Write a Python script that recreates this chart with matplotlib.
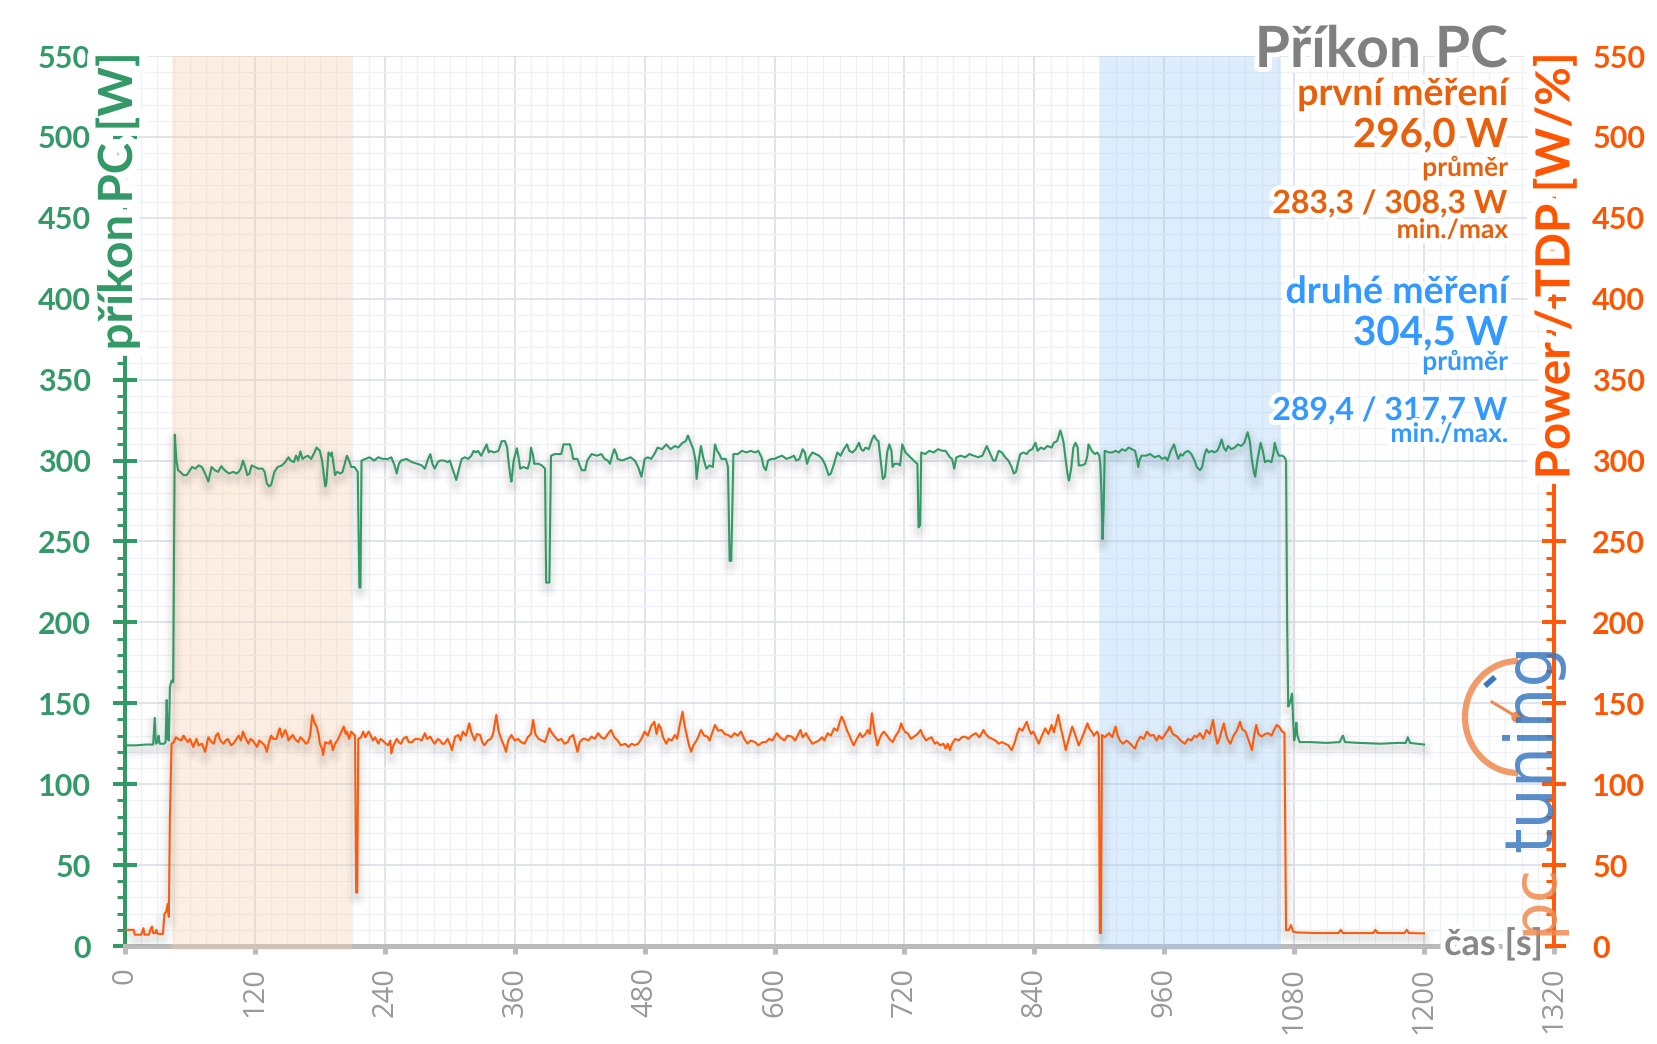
import matplotlib
matplotlib.use('Agg')
import matplotlib.pyplot as plt
import matplotlib.patheffects as pe
from matplotlib.patches import Arc, Circle
from matplotlib.ticker import MultipleLocator

# =============================================================================
# DATA
# =============================================================================

# příkon PC [W] - time [s] / value
pc_t = [0, 10, 20, 26, 27.5, 28.5, 30, 31, 32, 36, 37.5, 38.5, 39.5, 40.5, 41.5, 43, 44.5,
        46, 47.5, 49, 51, 54, 57, 60, 62, 65, 68, 71, 74, 77, 80, 83, 86, 89, 92, 96, 100,
        103, 105, 107, 109, 111, 113, 115, 117, 120, 123, 127, 129, 131, 133, 135, 138, 141,
        145, 148, 151, 153, 156, 158, 160, 162, 164, 166, 169, 172, 175, 177, 180, 182, 185,
        186, 188, 190, 191, 193, 194, 196, 199, 201, 203, 205, 207, 209, 212, 214, 215, 216.5,
        217.5, 218.5, 222, 226, 230, 234, 238, 243, 246, 249, 251, 253, 255, 260, 265, 270,
        274, 277, 280, 282, 284, 286, 289, 291, 295, 298, 300, 303, 306, 309, 311, 314, 317,
        320, 322, 324, 326, 329, 332, 334, 336, 337, 341, 345, 348, 351, 353, 354, 356, 357,
        359, 362, 364, 365, 368, 372, 374, 375, 377, 378, 382, 385, 388, 389, 392, 393.5, 397,
        400, 403, 405, 411, 413, 414, 418, 420, 422, 425, 427, 431, 436, 440, 443, 446, 448,
        450, 452, 454, 455, 459, 463, 467, 471, 474, 477, 479, 480, 483, 486, 489, 492, 496,
        500, 504, 508, 511, 515, 518, 520, 522, 525, 527, 528, 530, 532, 534, 537, 540, 543,
        545, 547, 549, 551, 555, 557, 558.5, 560, 562, 566, 570, 574, 578, 582, 585, 588, 590,
        592, 594, 597, 600, 603, 607, 611, 615, 618, 620, 623, 626, 628, 630, 632, 635, 638,
        641, 644, 647, 650, 652, 655, 658, 661, 664, 667, 669, 672, 675, 678, 680, 682, 684,
        687, 690, 692, 694, 696, 698, 700, 702, 704, 706, 708, 709, 711, 714, 716, 718, 721,
        724, 727, 730, 732, 733, 734.5, 735.5, 739, 743, 747, 751, 755, 758, 762, 764, 766,
        768, 772, 776, 780, 784, 788, 792, 794, 796, 798, 800, 802, 804, 807, 810, 813, 816,
        819, 821, 823, 825, 827, 830, 833, 835, 838, 841, 843, 846, 849, 852, 856, 858, 861,
        864, 866, 867, 869, 871, 872, 874, 876, 878, 880, 881, 884, 887, 889, 890, 893, 896,
        898, 900, 901, 902, 903, 904, 905, 909, 912, 915, 918, 921, 924, 927, 930, 933, 935,
        936, 937, 939, 943, 947, 951, 955, 958, 961, 963, 966, 969, 971, 973, 975, 977, 979,
        982, 985, 988, 990, 993, 995, 997, 999, 1001, 1004, 1006, 1009, 1011, 1013, 1015,
        1017, 1019, 1022, 1025, 1028, 1031, 1034, 1037, 1039, 1041, 1043, 1044, 1046, 1049,
        1051, 1053, 1056, 1059, 1061, 1062, 1064, 1066, 1069, 1071, 1072.5, 1073.5, 1074.5,
        1076, 1078, 1079, 1080, 1081, 1082, 1083, 1085, 1095, 1110, 1122, 1125, 1127, 1140,
        1160, 1175, 1183, 1185, 1187, 1200]
pc_w = [124, 124, 124.5, 124.5, 141, 125, 126, 130, 125, 125, 126, 152, 128, 127, 160, 164, 163,
        316, 300, 294, 293, 291, 291, 294, 296, 295, 297, 296, 292, 287, 296, 294, 293, 296.5,
        294, 292, 293, 292, 293, 295, 300, 296, 291, 292, 297, 296, 295, 295, 293, 286, 284,
        285, 293, 296, 297, 299, 302, 300, 299, 303, 300, 305.6, 301, 302, 303, 301, 305, 308,
        306, 300, 284, 286, 305, 303, 305, 296, 291, 293, 292, 293, 298, 303, 300, 296, 296,
        294, 293, 221.5, 221.5, 300, 301, 302, 300, 302, 301, 301, 302, 297, 292, 298, 300,
        301, 299, 298, 297, 295, 301, 304, 298, 295, 299, 300, 300, 299, 300, 294, 288, 296,
        301, 302, 301, 303, 306, 305, 306, 303, 307, 310, 305, 306, 305, 306, 312, 312, 308,
        301, 290, 287, 300, 307.6, 300, 295, 296, 295, 300, 308, 303, 298, 298, 297, 295,
        224.6, 224.6, 303, 304, 304, 304, 310, 310, 305, 301, 301, 297, 294, 294, 300, 304,
        303, 304, 301, 300, 298, 303, 307, 304, 301, 300, 301, 302, 300, 296, 290, 297, 301,
        302, 301, 304, 308, 307, 310, 307, 309, 308, 311, 312, 315.5, 312, 307, 300, 288.6,
        300, 309, 302, 295, 297, 296, 310, 306, 304, 301, 301, 296, 238, 238, 304, 304, 306,
        305, 306, 305, 306, 302, 296, 294, 300, 301, 301, 302, 303, 301, 302, 303, 300, 301,
        307, 305, 298, 302, 305, 304, 303, 301, 297, 291, 292, 298, 305, 303, 307, 310, 306,
        305, 307, 311, 307, 306, 308, 307, 313, 315.5, 313, 312, 300, 288.6, 290, 305, 310,
        306, 296, 298, 298, 297, 310, 305, 303, 301, 299, 298, 258.7, 260, 305, 304, 306, 305,
        307, 306, 306, 302, 301, 295, 302, 303, 302, 304, 303, 302, 303, 306, 309, 306, 303,
        300, 300, 306, 305, 302, 300, 296, 292, 293, 299, 304, 305, 304, 306, 307, 311, 306,
        308, 307, 309, 308, 311, 312, 318.6, 314, 311, 300, 290, 287.6, 295, 308, 311, 308,
        297, 297, 298, 303, 310, 306, 304, 305, 303, 297, 280, 251.4, 270, 306, 305, 305, 306,
        305, 307, 306, 308, 307, 306, 300, 296, 300, 303, 303, 304, 302, 303, 301, 302, 300,
        306, 310, 305, 301, 304, 303, 305, 306, 304, 300, 296, 294, 296, 303, 307, 305, 306,
        305, 306, 309, 313, 308, 306, 309, 307, 308, 310, 309, 311, 317.5, 312, 300, 292, 290,
        300, 311, 306, 299, 300, 299, 305, 311, 306, 303, 303, 302, 300, 200, 148, 150, 156,
        140, 127, 131, 138, 130, 126, 126, 125.5, 126, 130, 126, 125.5, 125, 125.5, 125.5, 129,
        125.5, 124.5]

# Power / TDP [W/%] - time [s] / value
cpu_t = [0, 8, 9, 15, 17, 18, 22, 24, 25, 26, 28, 29, 30, 35, 36.5, 38, 39.5, 40.5, 41.5, 43,
         45, 47, 49, 52, 54, 56, 58, 60, 63, 66, 68, 71, 74, 77, 80, 82, 84, 86, 88, 91, 93, 95,
         98, 100, 103, 105, 107, 109, 111, 114, 116, 118, 120, 122, 124, 126, 129, 131, 133,
         135, 137, 140, 142, 143, 145, 148, 150, 151, 153, 155, 157, 160, 162, 165, 167, 169,
         171, 173, 175, 177, 179, 180, 182, 183, 185, 188, 190, 192, 194, 197, 199, 202, 204,
         205, 207, 209, 211, 212.5, 213.5, 214.5, 215.5, 218, 220, 222, 225, 227, 229, 231,
         234, 236, 238, 241, 243, 245, 246, 248, 251, 253, 255, 257, 260, 262, 265, 268, 271,
         274, 277, 279, 282, 284, 286, 289, 291, 293, 295, 298, 300, 302, 305, 308, 310, 312,
         315, 318, 320, 323, 325, 328, 330, 332, 335, 338, 340, 343, 345, 348, 350, 352, 354,
         357, 360, 363, 366, 369, 372, 375, 377, 379, 382, 385, 388, 390, 392, 395, 397, 400,
         403, 406, 409, 411, 414, 416, 418, 420, 423, 425, 428, 431, 434, 437, 440, 443, 446,
         449, 452, 455, 458, 462, 465, 468, 471, 474, 477, 480, 483, 486, 489, 491, 493, 495,
         497, 500, 502, 505, 508, 510, 512, 515, 517, 520, 521, 523, 525, 528, 530, 532, 535,
         538, 540, 542, 545, 548, 551, 554, 557, 560, 563, 566, 569, 572, 575, 578, 582, 585,
         589, 592, 595, 598, 600, 602, 605, 609, 612, 616, 619, 622, 624, 626, 629, 632, 635,
         638, 641, 644, 646, 649, 652, 655, 658, 660, 662, 664, 667, 669, 671, 673, 676, 679,
         681, 684, 686, 688, 690, 692, 695, 697, 699, 701, 704, 706, 709, 712, 715, 717, 719,
         721, 723, 726, 729, 732, 735, 737, 740, 742, 745, 748, 750, 753, 756, 758, 760, 762,
         764, 767, 770, 773, 776, 779, 782, 786, 789, 791, 793, 795, 798, 801, 804, 807, 810,
         813, 816, 819, 822, 824, 826, 829, 831, 833, 835, 837, 839, 842, 844, 847, 850, 853,
         856, 858, 860, 862, 864, 866, 869, 871, 873, 875, 877, 879, 881, 883, 886, 889, 891,
         893, 895, 898, 899.5, 900.5, 901.5, 902.5, 905, 909, 912, 915, 917, 919, 922, 925,
         927, 930, 933, 935, 938, 941, 944, 947, 950, 953, 955, 958, 961, 963, 965, 968, 972,
         975, 977, 979, 982, 985, 988, 990, 993, 996, 999, 1002, 1005, 1007, 1009, 1011, 1013,
         1015, 1017, 1019, 1021, 1024, 1027, 1030, 1032, 1035, 1038, 1041, 1043, 1045, 1047,
         1050, 1053, 1056, 1059, 1061, 1064, 1066, 1069, 1071, 1072.5, 1075, 1077, 1079, 1082,
         1100, 1121, 1123, 1125, 1153, 1155, 1157, 1182, 1184, 1186, 1200]
cpu_w = [10, 10, 7, 7, 11, 7, 7, 11, 12, 8, 8, 10, 7.5, 7.5, 20, 21, 26, 18, 80, 125,
         126, 129, 128, 127, 130, 128, 126, 128, 123, 128, 124, 125, 120, 129, 126, 125, 130,
         131.5, 127, 125, 127, 128, 124, 125, 128, 130, 127, 132.5, 129, 125, 128, 127, 125,
         123, 127, 126, 124, 120, 126, 130, 128, 128, 133, 134.5, 129, 133.5, 130, 127, 129,
         130.4, 128, 126, 129, 127, 125, 126, 130, 142.8, 138, 135.6, 130, 125, 122, 118, 126,
         125, 127, 121, 125, 128, 131, 135.6, 131, 132.5, 128, 132.5, 131, 130, 33, 33, 128,
         129, 132.5, 129, 132.5, 130, 127, 129, 125, 128, 127, 125, 124, 127, 119, 124, 128,
         126, 125, 128, 129.4, 126, 126, 128, 128, 127, 131.5, 128, 129.4, 127, 125, 128, 127,
         125, 125, 128, 125, 121, 129.4, 130.4, 127, 132.5, 130, 137.6, 132, 127, 131, 130.4,
         126, 124, 127, 128, 131, 142.8, 133, 127, 124, 120, 127, 130.4, 127, 128, 126, 125,
         129, 131, 139.7, 131, 128, 127, 126, 130, 134.5, 131, 129.4, 127, 128, 125, 126, 129,
         130.4, 125, 120, 126, 128, 128, 127, 129.4, 128, 131.5, 129, 128, 131, 133.5, 129,
         127, 124, 125, 123, 125, 124, 125, 128, 132.5, 130, 136, 138.6, 131, 137, 134.5, 129,
         125, 128, 127, 130.4, 128, 135, 144.8, 136, 127, 124, 120, 124, 127, 130, 133.5, 130,
         129.4, 127, 131, 136.6, 133, 133.5, 131, 130.4, 129, 131.5, 130, 132.5, 128, 125, 127,
         126, 124, 126, 126, 128, 127, 129.4, 131.5, 129, 127, 130, 129.4, 127, 131, 133.5,
         129, 131.5, 128, 125, 126, 127, 129, 127, 131.5, 130, 134.5, 133, 138, 141.8, 139,
         133, 130.4, 127, 124, 128, 131.5, 129, 131, 133.5, 131, 143.8, 134, 124, 128, 131,
         132.5, 130, 128, 126, 130, 133, 137.6, 134, 132, 131.5, 128, 129.4, 131, 133.5, 130,
         127, 128, 129, 125, 126, 124, 125, 122, 125, 121, 125, 128, 127, 129, 129.4, 128, 130,
         131.5, 129, 131, 133.5, 131, 129, 128, 127, 125, 126, 125, 124, 121, 126, 131, 134.5,
         133, 136, 138.6, 134, 131, 132.5, 128, 125, 130, 134.5, 131, 136.6, 132, 137, 142.8,
         136, 130.4, 121, 126, 131, 135.6, 132, 128, 124, 127, 132, 137.6, 134, 132.5, 130,
         132.5, 130, 8, 8, 130.4, 129, 131.5, 129, 135.6, 130, 127, 125, 127, 126, 124, 122,
         126, 129.4, 128, 132.5, 130, 130.4, 127, 130, 128, 131, 133, 135.6, 131, 129.4, 127,
         126, 125, 128, 127, 130, 129, 131.5, 128, 133.5, 131, 139.7, 131, 125, 128, 133,
         137.6, 131, 127, 125, 130, 133, 138.6, 134, 132.5, 127, 121, 130, 136.6, 131, 129.4,
         131, 131.5, 130, 133, 136.6, 135.6, 132.5, 131.7, 9.8, 10, 12.9, 9, 8.4, 8, 8, 10, 8,
         8, 10, 8, 8, 10, 8, 7.8]

# highlighted intervals [s]
span_first = (43, 210)
span_second = (901, 1068)

x_ticks_step = 120
y_ticks_step = 50

# =============================================================================
# STYLE
# =============================================================================

GREEN = '#339966'
ORANGE = '#ff5a0a'
ORANGE_AX = '#ff5500'
ORANGE_TXT = '#e8600c'
BLUE = '#3399ff'
GRAY = '#808080'
LOGO_OR = '#f08a50'
LOGO_BL = '#3a78c0'

plt.rcParams['font.family'] = ['Lato', 'DejaVu Sans']
plt.rcParams['font.weight'] = 'bold'

W, H = 1657, 1044
fig = plt.figure(figsize=(W / 100, H / 100), dpi=100)
ax = fig.add_axes([125 / W, 1 - 946 / H, (1554 - 125) / W, (946 - 56) / H])
ax2 = ax.twinx()

glow = [pe.withStroke(linewidth=7, foreground='white')]
glow_wide = [pe.withStroke(linewidth=12, foreground='white')]
shadow = [pe.SimpleLineShadow(offset=(0, -3.5), shadow_color='black', alpha=0.025, linewidth=13),
          pe.SimpleLineShadow(offset=(0, -3.5), shadow_color='black', alpha=0.03, linewidth=8),
          pe.SimpleLineShadow(offset=(0, -3.5), shadow_color='black', alpha=0.03, linewidth=4),
          pe.Normal()]

# -----------------------------------------------------------------------------
# Axes, grid, spines
ax.set_xlim(0, 1320)
ax.set_ylim(0, 550)
ax2.set_ylim(0, 550)
ax.set_axisbelow(True)

ax.xaxis.set_major_locator(MultipleLocator(x_ticks_step))
ax.xaxis.set_minor_locator(MultipleLocator(15))
ax.yaxis.set_major_locator(MultipleLocator(y_ticks_step))
ax.yaxis.set_minor_locator(MultipleLocator(10))
ax2.yaxis.set_major_locator(MultipleLocator(y_ticks_step))
ax2.yaxis.set_minor_locator(MultipleLocator(10))

ax.grid(which='major', color='#dde2ea', lw=1.3)
ax.grid(which='minor', color='#eef1f5', lw=1.0)

for s in ['top', 'right']:
    ax.spines[s].set_visible(False)
for s in ['top', 'left', 'bottom']:
    ax2.spines[s].set_visible(False)
ax.spines['left'].set_color(GREEN)
ax.spines['left'].set_linewidth(2.9)
ax.spines['bottom'].set_color('#bbbbbb')
ax.spines['bottom'].set_linewidth(3.6)
ax2.spines['right'].set_color(ORANGE)
ax2.spines['right'].set_linewidth(2.9)

ax.tick_params(axis='y', which='major', direction='inout', length=17, width=2.9,
               color=GREEN, labelcolor=GREEN, labelsize=22, pad=16)
ax.tick_params(axis='y', which='minor', direction='out', length=6, width=2.2, color=GREEN)
ax.tick_params(axis='x', which='major', direction='out', length=6, width=3.6,
               color='#bbbbbb', labelcolor='#999999', labelsize=21, pad=9, labelrotation=90)
ax.tick_params(axis='x', which='minor', length=0)
ax2.tick_params(axis='y', which='major', direction='inout', length=17, width=2.9,
                color=ORANGE, labelcolor=ORANGE_AX, labelsize=22, pad=19)
ax2.tick_params(axis='y', which='minor', direction='in', length=6, width=2.2, color=ORANGE)

for lbl in ax.get_xticklabels():
    lbl.set_family('Open Sans')
    lbl.set_fontweight('normal')

# -----------------------------------------------------------------------------
# Highlighted intervals and series
ax.axvspan(*span_first, ymin=-0.004, ymax=1, color='#f9d1ac', alpha=0.35, lw=0,
           zorder=2.7, clip_on=False)
ax.axvspan(*span_second, ymin=-0.004, ymax=1, color='#9eccf6', alpha=0.35, lw=0,
           zorder=2.7, clip_on=False)

ax.plot(pc_t, pc_w, color=GREEN, lw=1.5, zorder=3, path_effects=shadow)
ax2.plot(cpu_t, cpu_w, color=ORANGE, lw=1.5, zorder=3, path_effects=shadow)

# -----------------------------------------------------------------------------
# Overlay in pixel coordinates for labels, texts and logo
ov = fig.add_axes([0, 0, 1, 1], zorder=10)
ov.set_xlim(0, W)
ov.set_ylim(H, 0)
ov.axis('off')

ov.text(117, 52, 'příkon PC [W]', rotation=90, ha='center', va='top', color=GREEN,
        fontsize=34, path_effects=glow_wide)
ov.text(1555, 52, 'Power / TDP [W/%]', rotation=90, ha='center', va='top', color=ORANGE_AX,
        fontsize=34, path_effects=glow_wide)
ov.text(1543, 955, 'čas [s]', ha='right', va='baseline', color='#888888', fontsize=26,
        path_effects=glow)

stats = [
    ('Příkon PC', 67, 41, GRAY),
    ('první měření', 105, 27, ORANGE_TXT),
    ('296,0 W', 147, 29, ORANGE_TXT),
    ('průměr', 176, 19, ORANGE_TXT),
    ('283,3 / 308,3 W', 213, 23, ORANGE_TXT),
    ('min./max', 238, 19, ORANGE_TXT),
    ('druhé měření', 303, 27, BLUE),
    ('304,5 W', 345, 29, BLUE),
    ('průměr', 370, 19, BLUE),
    ('289,4 / 317,7 W', 420, 23, BLUE),
    ('min./max.', 442, 19, BLUE),
]
for txt, yb, fs, col in stats:
    ov.text(1508, yb, txt, ha='right', va='baseline', color=col, fontsize=fs,
            path_effects=glow)

# logo (gauge + rotated wordmark), drawn last
ov.add_patch(Arc((1518, 717), 106, 112, theta1=90, theta2=270, color=LOGO_OR,
                 lw=4.5, alpha=0.85))
ov.plot([1485, 1495], [686, 677], color=LOGO_BL, lw=4, solid_capstyle='butt')
ov.plot([1492, 1517], [702, 717], color=LOGO_OR, lw=2.2)
ov.add_patch(Circle((1517, 717), 5, color=LOGO_OR))
ov.text(1551, 935, 'pc', rotation=90, rotation_mode='anchor', ha='left', va='baseline',
        family='DejaVu Sans', fontweight='normal', fontsize=44, color=LOGO_OR, alpha=0.85)
ov.text(1551, 852, 'tuning', rotation=90, rotation_mode='anchor', ha='left', va='baseline',
        family='DejaVu Sans', fontweight='normal', fontsize=47, color=LOGO_BL, alpha=0.85)

fig.savefig('out.png', dpi=100)
